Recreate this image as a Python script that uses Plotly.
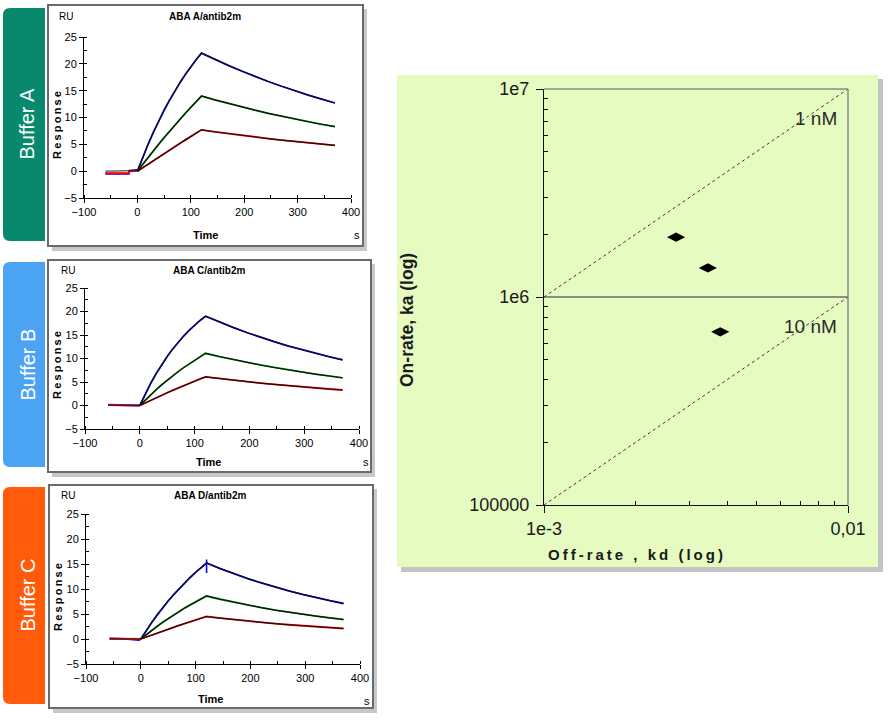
import plotly.graph_objects as go

W, H = 896, 720
FONT = "Liberation Sans, Arial, sans-serif"

# ---------------- data: sensorgrams ----------------
T = [0, 10, 20, 30, 40, 50, 60, 70, 80, 90, 100, 110, 120,
     145, 170, 195, 220, 245, 270, 295, 320, 345, 370]

# Panel 1: ABA A/antib2m
A_blue = [0, 2.59, 5.01, 7.27, 9.38, 11.36, 13.20, 14.93, 16.54, 18.05, 19.46, 20.77, 22.0,
          20.82, 19.71, 18.66, 17.66, 16.71, 15.82, 14.97, 14.17, 13.42, 12.70]
A_green = [0, 1.30, 2.57, 3.82, 5.04, 6.24, 7.42, 8.57, 9.70, 10.80, 11.89, 12.96, 14.0,
           13.29, 12.61, 11.97, 11.36, 10.78, 10.23, 9.71, 9.21, 8.74, 8.30]
A_red = [0, 0.67, 1.33, 1.98, 2.64, 3.28, 3.92, 4.56, 5.20, 5.83, 6.45, 7.07, 7.70,
         7.34, 7.00, 6.68, 6.37, 6.08, 5.80, 5.53, 5.27, 5.03, 4.80]
A_base_t = [-60, -16, -15, 0]
A_base_blue = [-0.5, -0.5, 0.1, 0.2]
A_base_red = [-0.4, -0.4, 0.0, 0.1]
A_base_black = [0.0, 0.0, 0.05, 0.1]

# Panel 2: ABA C/antib2m
B_blue = [0, 2.48, 4.74, 6.81, 8.71, 10.44, 12.02, 13.46, 14.78, 15.99, 17.09, 18.10, 19.0,
          17.76, 16.61, 15.53, 14.52, 13.58, 12.69, 11.87, 11.10, 10.38, 9.70]
B_green = [0, 1.18, 2.31, 3.38, 4.41, 5.38, 6.32, 7.21, 8.06, 8.86, 9.64, 10.38, 11.10,
           10.42, 9.78, 9.18, 8.62, 8.09, 7.59, 7.13, 6.69, 6.28, 5.90]
B_red = [0, 0.57, 1.12, 1.66, 2.20, 2.72, 3.23, 3.74, 4.23, 4.71, 5.19, 5.65, 6.10,
         5.74, 5.40, 5.07, 4.77, 4.49, 4.22, 3.97, 3.73, 3.51, 3.30]
B_base_t = [-58, -18, -17, 0]
B_base_blue = [0.15, 0.15, 0.0, 0.0]
B_base_red = [0.1, 0.1, 0.0, 0.0]
B_base_black = [0.05, 0.05, 0.0, 0.0]

# Panel 3: ABA D/antib2m
C_blue = [0, 1.70, 3.31, 4.82, 6.26, 7.61, 8.88, 10.09, 11.23, 12.30, 13.32, 14.28, 15.2,
          14.08, 13.05, 12.09, 11.21, 10.38, 9.62, 8.92, 8.26, 7.66, 7.10]
C_green = [0, 0.89, 1.73, 2.55, 3.34, 4.09, 4.81, 5.51, 6.18, 6.82, 7.44, 8.03, 8.60,
           7.95, 7.34, 6.79, 6.27, 5.79, 5.35, 4.95, 4.57, 4.22, 3.90]
C_red = [0, 0.41, 0.80, 1.20, 1.59, 1.97, 2.35, 2.72, 3.09, 3.46, 3.82, 4.17, 4.50,
         4.17, 3.86, 3.58, 3.32, 3.07, 2.85, 2.64, 2.44, 2.27, 2.10]
C_spike_t = [120, 120, 120]
C_spike_blue = [15.2, 13.2, 15.9]
C_base_t = [-57, -25, -24, -3, 0]
C_base_blue = [0.1, 0.1, 0.0, -0.2, 0.0]
C_base_red = [0.05, 0.05, 0.0, -0.1, 0.0]
C_base_black = [0.05, 0.05, 0.0, 0.0, 0.0]

PANEL_TITLES = ["ABA A/antib2m", "ABA C/antib2m", "ABA D/antib2m"]
BUFFER_LABELS = ["Buffer A", "Buffer B", "Buffer C"]
BUFFER_COLORS = ["#08896D", "#4BA3F4", "#FF5B0B"]

# ---------------- data: rate plot ----------------
kd_vals = [2.72e-3, 3.46e-3, 3.80e-3]
ka_vals = [1.94e6, 1.38e6, 6.8e5]
iso_KD = [1e-9, 1e-8]            # 1 nM, 10 nM
iso_labels = ["1 nM", "10 nM"]
kd_span = [1e-3, 1e-2]
rate_x_ticks = [1e-3, 1e-2]
rate_x_text = ["1e-3", "0,01"]
rate_y_ticks = [1e5, 1e6, 1e7]
rate_y_text = ["100000", "1e6", "1e7"]


def px(x):
    return x / W


def py(y):
    return 1 - y / H


def spaced(s):
    return "\u2009".join(s)


fig = go.Figure()

panels = [
    dict(data=(A_blue, A_green, A_red), base=(A_base_t, A_base_blue, A_base_red, A_base_black),
         xd=(84, 351), yd=(37, 198), frame=(48, 5, 363, 246), tab=(3, 8, 45, 241),
         title=(205, 16), ru=(66, 16), resp=(57, 125), time=(205, 235), s=(357, 235)),
    dict(data=(B_blue, B_green, B_red), base=(B_base_t, B_base_blue, B_base_red, B_base_black),
         xd=(85, 359), yd=(288, 429), frame=(48, 260, 371, 472), tab=(3, 262, 45, 467),
         title=(209, 270), ru=(68, 270), resp=(57, 365), time=(208, 462), s=(366, 462)),
    dict(data=(C_blue, C_green, C_red), base=(C_base_t, C_base_blue, C_base_red, C_base_black),
         xd=(86, 360), yd=(514, 664), frame=(49, 485, 373, 708), tab=(3, 487, 45, 704),
         title=(210, 495), ru=(68, 495), resp=(58, 597), time=(210, 699), s=(367, 701)),
]

shapes = []
annotations = []
layout_axes = {}

colors = ["#0000FF", "#009000", "#FF0000"]

for i, p in enumerate(panels):
    n = i + 1
    xa = "x" if n == 1 else f"x{n}"
    ya = "y" if n == 1 else f"y{n}"
    bt, bb, br, bk = p["base"]
    # baseline
    fig.add_trace(go.Scatter(x=bt, y=bb, mode="lines", line=dict(color=colors[0], width=2),
                             xaxis=xa, yaxis=ya, hoverinfo="skip"))
    fig.add_trace(go.Scatter(x=bt, y=br, mode="lines", line=dict(color=colors[2], width=2),
                             xaxis=xa, yaxis=ya, hoverinfo="skip"))
    fig.add_trace(go.Scatter(x=bt, y=bk, mode="lines", line=dict(color="#202020", width=1),
                             xaxis=xa, yaxis=ya, hoverinfo="skip"))
    for c, vals in zip(colors, p["data"]):
        fig.add_trace(go.Scatter(x=T, y=vals, mode="lines", line=dict(color=c, width=1.8),
                                 xaxis=xa, yaxis=ya, hoverinfo="skip"))
    if n == 3:
        fig.add_trace(go.Scatter(x=C_spike_t, y=C_spike_blue, mode="lines",
                                 line=dict(color=colors[0], width=1.6),
                                 xaxis=xa, yaxis=ya, hoverinfo="skip"))
    for vals in p["data"]:
        fig.add_trace(go.Scatter(x=T, y=vals, mode="lines", line=dict(color="#111111", width=1.2),
                                 xaxis=xa, yaxis=ya, hoverinfo="skip"))

    axkey = "xaxis" if n == 1 else f"xaxis{n}"
    aykey = "yaxis" if n == 1 else f"yaxis{n}"
    layout_axes[axkey] = dict(
        domain=[px(p["xd"][0]), px(p["xd"][1])], range=[-100, 400], anchor=ya,
        tick0=0, dtick=100, showline=True, linecolor="black", linewidth=1,
        ticks="outside", ticklen=4, tickcolor="black", showgrid=False, zeroline=False,
        minor=dict(dtick=50, ticks="inside", ticklen=3, tickcolor="black", showgrid=False),
        tickfont=dict(family=FONT, size=11, color="black"), fixedrange=True, automargin=False)
    layout_axes[aykey] = dict(
        domain=[py(p["yd"][1]), py(p["yd"][0])], range=[-5, 25], anchor=xa,
        tick0=0, dtick=5, showline=True, linecolor="black", linewidth=1,
        ticks="outside", ticklen=4, tickcolor="black", showgrid=False, zeroline=False,
        minor=dict(dtick=2.5, ticks="inside", ticklen=3, tickcolor="black", showgrid=False),
        tickfont=dict(family=FONT, size=11, color="black"), fixedrange=True, automargin=False)

    # frame with shadow
    x0, y0, x1, y1 = p["frame"]
    shapes.append(dict(type="rect", xref="paper", yref="paper", layer="below",
                       x0=px(x0 + 4), x1=px(x1 + 4), y0=py(y1 + 5), y1=py(y0 + 4),
                       fillcolor="#c8c8c8", line=dict(width=0)))
    shapes.append(dict(type="rect", xref="paper", yref="paper", layer="below",
                       x0=px(x0), x1=px(x1), y0=py(y1), y1=py(y0),
                       fillcolor="white", line=dict(color="#6a6a6a", width=2)))
    # tab with rounded left corners
    tx0, ty0, tx1, ty1 = p["tab"]
    r = 7
    path = (f"M {px(tx1)},{py(ty0)} L {px(tx0 + r)},{py(ty0)} "
            f"Q {px(tx0)},{py(ty0)} {px(tx0)},{py(ty0 + r)} "
            f"L {px(tx0)},{py(ty1 - r)} Q {px(tx0)},{py(ty1)} {px(tx0 + r)},{py(ty1)} "
            f"L {px(tx1)},{py(ty1)} Z")
    shapes.append(dict(type="path", xref="paper", yref="paper", layer="below", path=path,
                       fillcolor=BUFFER_COLORS[i], line=dict(width=0)))
    annotations.append(dict(x=px((tx0 + tx1) / 2 + 3), y=py((ty0 + ty1) / 2), xref="paper", yref="paper",
                            text=BUFFER_LABELS[i], textangle=-90, showarrow=False,
                            font=dict(family=FONT, size=20, color="white"),
                            xanchor="center", yanchor="middle"))
    annotations.append(dict(x=px(p["title"][0]), y=py(p["title"][1]), xref="paper", yref="paper",
                            text=f"<b>{PANEL_TITLES[i]}</b>", showarrow=False,
                            font=dict(family=FONT, size=10, color="black"),
                            xanchor="center", yanchor="middle"))
    annotations.append(dict(x=px(p["ru"][0]), y=py(p["ru"][1]), xref="paper", yref="paper",
                            text="RU", showarrow=False,
                            font=dict(family=FONT, size=10, color="black"),
                            xanchor="center", yanchor="middle"))
    annotations.append(dict(x=px(p["resp"][0]), y=py(p["resp"][1]), xref="paper", yref="paper",
                            text="<b>" + spaced("Response") + "</b>", textangle=-90, showarrow=False,
                            font=dict(family=FONT, size=11, color="black"),
                            xanchor="center", yanchor="middle"))
    annotations.append(dict(x=px(p["time"][0]), y=py(p["time"][1]), xref="paper", yref="paper",
                            text="<b>Time</b>", showarrow=False,
                            font=dict(family=FONT, size=11, color="black"),
                            xanchor="center", yanchor="middle"))
    annotations.append(dict(x=px(p["s"][0]), y=py(p["s"][1]), xref="paper", yref="paper",
                            text="s", showarrow=False,
                            font=dict(family=FONT, size=11, color="black"),
                            xanchor="center", yanchor="middle"))

# ---------------- rate plot ----------------
shapes.append(dict(type="rect", xref="paper", yref="paper", layer="below",
                   x0=px(401), x1=px(883), y0=py(572), y1=py(79),
                   fillcolor="#c4c4c4", line=dict(width=0)))
shapes.append(dict(type="rect", xref="paper", yref="paper", layer="below",
                   x0=px(397), x1=px(878), y0=py(567), y1=py(75),
                   fillcolor="#E5FBC0", line=dict(width=0)))

for KD, lab in zip(iso_KD, iso_labels):
    fig.add_trace(go.Scatter(x=kd_span, y=[k / KD for k in kd_span], mode="lines",
                             line=dict(color="#3a3a3a", width=1, dash="3px,3px"),
                             xaxis="x4", yaxis="y4", hoverinfo="skip"))

fig.add_trace(go.Scatter(x=kd_vals, y=ka_vals, mode="markers",
                         marker=dict(symbol="diamond-wide", size=13, color="black"),
                         xaxis="x4", yaxis="y4", hoverinfo="skip"))

shapes.append(dict(type="line", xref="x4 domain", yref="y4 domain", x0=0, x1=1, y0=1, y1=1,
                   line=dict(color="#8c8c8c", width=1.5)))
shapes.append(dict(type="line", xref="x4 domain", yref="y4 domain", x0=1, x1=1, y0=0, y1=1,
                   line=dict(color="#8c8c8c", width=1.5)))

layout_axes["xaxis4"] = dict(
    domain=[px(544), px(848)], type="log", range=[-3, -2], anchor="y4",
    tickmode="array", tickvals=rate_x_ticks, ticktext=rate_x_text,
    showline=True, linecolor="#111", linewidth=1.2, ticks="outside", ticklen=7, tickcolor="#111",
    showgrid=False, zeroline=False, automargin=False,
    minor=dict(tickmode="array", tickvals=[2e-3, 3e-3, 4e-3, 5e-3, 6e-3, 7e-3, 8e-3, 9e-3],
               ticks="inside", ticklen=4, tickcolor="#111", showgrid=False),
    tickfont=dict(family=FONT, size=18, color="#1a1a1a"), fixedrange=True)
layout_axes["yaxis4"] = dict(
    domain=[py(505), py(89)], type="log", range=[5, 7], anchor="x4",
    tickmode="array", tickvals=rate_y_ticks, ticktext=rate_y_text,
    showline=True, linecolor="#111", linewidth=1.2, ticks="outside", ticklen=7, tickcolor="#111",
    showgrid=True, gridcolor="#8c8c8c", gridwidth=1.5, zeroline=False, ticklabelstandoff=3,
    automargin=False,
    minor=dict(tickmode="array",
               tickvals=[2e5, 3e5, 4e5, 5e5, 6e5, 7e5, 8e5, 9e5,
                         2e6, 3e6, 4e6, 5e6, 6e6, 7e6, 8e6, 9e6],
               ticks="inside", ticklen=4, tickcolor="#111", showgrid=False),
    tickfont=dict(family=FONT, size=18, color="#1a1a1a"), fixedrange=True)

annotations.append(dict(x=px(839), y=py(119), xref="paper", yref="paper", text=iso_labels[0],
                        showarrow=False, font=dict(family=FONT, size=19, color="#2a2a2a"),
                        xanchor="right", yanchor="middle"))
annotations.append(dict(x=px(839), y=py(327), xref="paper", yref="paper", text=iso_labels[1],
                        showarrow=False, font=dict(family=FONT, size=19, color="#2a2a2a"),
                        xanchor="right", yanchor="middle"))
annotations.append(dict(x=px(635), y=py(554), xref="paper", yref="paper",
                        text="<b>" + spaced("Off-rate , kd (log)") + "</b>", showarrow=False,
                        font=dict(family=FONT, size=15, color="#1a1a1a"),
                        xanchor="center", yanchor="middle"))
annotations.append(dict(x=px(407), y=py(320), xref="paper", yref="paper",
                        text="<b>On-rate, ka (log)</b>", textangle=-90, showarrow=False,
                        font=dict(family=FONT, size=17.5, color="#1a1a1a"),
                        xanchor="center", yanchor="middle"))

fig.update_layout(
    width=W, height=H, autosize=False,
    margin=dict(l=0, r=0, t=0, b=0, pad=0, autoexpand=False),
    paper_bgcolor="white", plot_bgcolor="rgba(0,0,0,0)",
    showlegend=False, shapes=shapes, annotations=annotations,
    **layout_axes)

fig.write_html("out.html", config={"displayModeBar": False},
               post_script="document.body.style.margin='0';document.body.style.padding='0';")
